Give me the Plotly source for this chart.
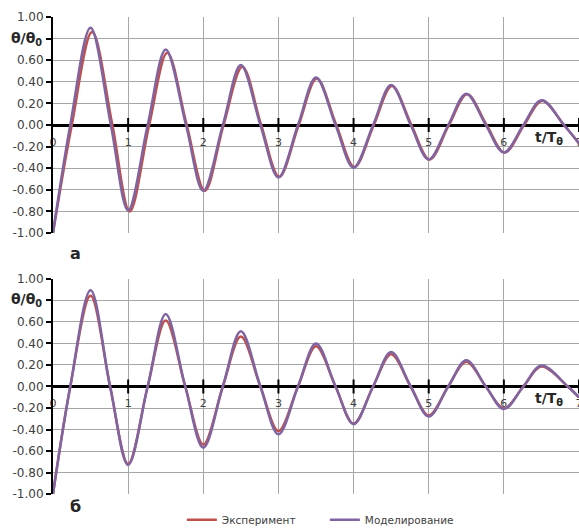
import plotly.graph_objects as go

# ---- data ----
t_sim_a = [0, 0.23, 0.50, 0.77, 1.0, 1.26, 1.50, 1.77, 2.0, 2.26, 2.50, 2.76, 3.0, 3.26, 3.50, 3.76, 4.0, 4.26, 4.50, 4.76, 5.0, 5.26, 5.50, 5.76, 6.0, 6.26, 6.50, 6.80, 7.0]
y_sim_a = [-1.0, 0, 0.90, 0, -0.79, 0, 0.70, 0, -0.61, 0, 0.555, 0, -0.485, 0, 0.44, 0, -0.395, 0, 0.37, 0, -0.32, 0, 0.29, 0, -0.255, 0, 0.23, 0, -0.17]
t_exp_a = [0, 0.25, 0.52, 0.79, 1.02, 1.28, 1.52, 1.78, 2.02, 2.27, 2.52, 2.77, 3.01, 3.27, 3.51, 3.77, 4.01, 4.27, 4.51, 4.77, 5.01, 5.27, 5.51, 5.77, 6.01, 6.27, 6.51, 6.80, 7.0]
y_exp_a = [-1.0, 0, 0.86, 0, -0.80, 0, 0.67, 0, -0.61, 0, 0.54, 0, -0.48, 0, 0.43, 0, -0.39, 0, 0.36, 0, -0.32, 0, 0.285, 0, -0.255, 0, 0.225, 0, -0.17]

t_b = [0, 0.23, 0.50, 0.76, 1.0, 1.26, 1.50, 1.76, 2.0, 2.26, 2.50, 2.76, 3.0, 3.26, 3.50, 3.76, 4.0, 4.26, 4.50, 4.76, 5.0, 5.26, 5.50, 5.76, 6.0, 6.26, 6.50, 6.85, 7.0]
y_sim_b = [-1.0, 0, 0.895, 0, -0.73, 0, 0.675, 0, -0.57, 0, 0.515, 0, -0.445, 0, 0.40, 0, -0.35, 0, 0.32, 0, -0.28, 0, 0.245, 0, -0.21, 0, 0.195, 0, -0.10]
y_exp_b = [-1.0, 0, 0.845, 0, -0.72, 0, 0.615, 0, -0.54, 0, 0.465, 0, -0.415, 0, 0.375, 0, -0.345, 0, 0.30, 0, -0.27, 0, 0.23, 0, -0.205, 0, 0.185, 0, -0.10]

x_ticks = [0, 1, 2, 3, 4, 5, 6, 7]
y_ticks = [-1.0, -0.8, -0.6, -0.4, -0.2, 0.0, 0.2, 0.4, 0.6, 0.8, 1.0]
y_ticktext = ["-1.00", "-0.80", "-0.60", "-0.40", "-0.20", "0.00", "0.20", "0.40", "0.60", "", "1.00"]

RED = "#c0504d"
PURPLE = "#8064a2"
GRID = "#a6a6a6"
FONT = "DejaVu Sans"

fig = go.Figure()

for xa, ya in [("x", "y"), ("x2", "y2")]:
    # tick marks on the t-axis (y = 0 line)
    fig.add_trace(go.Scatter(x=x_ticks[1:], y=[0] * (len(x_ticks) - 1), xaxis=xa, yaxis=ya,
                             mode="markers", showlegend=False, hoverinfo="skip",
                             marker=dict(symbol="line-ns", size=10, line=dict(width=2, color="black"))))
    # tick labels of the t-axis
    fig.add_trace(go.Scatter(x=x_ticks, y=[-0.165] * len(x_ticks), xaxis=xa, yaxis=ya,
                             mode="text", text=[str(v) for v in x_ticks], showlegend=False,
                             hoverinfo="skip", cliponaxis=False,
                             textfont=dict(size=11, color="#404040", family=FONT)))

fig.add_trace(go.Scatter(x=t_exp_a, y=y_exp_a, xaxis="x", yaxis="y", mode="lines", name="Эксперимент",
                         line=dict(color=RED, width=2.5, shape="spline", smoothing=1.0), showlegend=True))
fig.add_trace(go.Scatter(x=t_sim_a, y=y_sim_a, xaxis="x", yaxis="y", mode="lines", name="Моделирование",
                         line=dict(color=PURPLE, width=2.5, shape="spline", smoothing=1.0), showlegend=True))
fig.add_trace(go.Scatter(x=t_b, y=y_exp_b, xaxis="x2", yaxis="y2", mode="lines", name="Эксперимент",
                         line=dict(color=RED, width=2.5, shape="spline", smoothing=1.0), showlegend=False))
fig.add_trace(go.Scatter(x=t_b, y=y_sim_b, xaxis="x2", yaxis="y2", mode="lines", name="Моделирование",
                         line=dict(color=PURPLE, width=2.5, shape="spline", smoothing=1.0), showlegend=False))

xcommon = dict(range=[0, 7], tickvals=x_ticks, showticklabels=False, showgrid=True, gridcolor=GRID,
               gridwidth=1, zeroline=False, showline=False, ticks="")
ycommon = dict(range=[-1, 1], tickvals=y_ticks, ticktext=y_ticktext, showgrid=True, gridcolor=GRID,
               gridwidth=1, zeroline=True, zerolinecolor="black", zerolinewidth=2.5,
               showline=True, linecolor="black", linewidth=2, ticks="outside", ticklen=5,
               tickwidth=1.5, tickcolor="black", tickfont=dict(size=12, color="#404040", family=FONT))

fig.update_layout(
    width=579, height=528,
    margin=dict(l=53, r=0, t=17, b=0, autoexpand=False),
    paper_bgcolor="white", plot_bgcolor="white",
    font=dict(family=FONT),
    xaxis=dict(domain=[0, 1], anchor="y", **xcommon),
    yaxis=dict(domain=[0.5773, 1.0], anchor="x", **ycommon),
    xaxis2=dict(domain=[0, 1], anchor="y2", **xcommon),
    yaxis2=dict(domain=[0.0665, 0.4873], anchor="x2", **ycommon),
    showlegend=True,
    legend=dict(orientation="h", x=0.245, y=0.016, xanchor="left", yanchor="middle",
                font=dict(size=10.5, color="#404040", family=FONT), bgcolor="rgba(0,0,0,0)",
                entrywidth=98, entrywidthmode="pixels"),
)

ann = []
for yr in ["y", "y2"]:
    ann.append(dict(x=-0.018, xref="paper", y=0.8, yref=yr, xanchor="right",
                    text="<b>θ/θ<sub>0</sub></b>",
                    showarrow=False, font=dict(size=14, color="#262626", family=FONT)))
    xr = "x" if yr == "y" else "x2"
    ann.append(dict(x=6.6, xref=xr, y=-0.12, yref=yr, text="<b>t/T<sub>θ</sub></b>",
                    showarrow=False, font=dict(size=14, color="#262626", family=FONT)))
ann.append(dict(x=0.0285, xref="paper", y=0.538, yref="paper", text="<b>а</b>", showarrow=False,
                font=dict(size=16, color="#262626", family=FONT)))
ann.append(dict(x=0.0285, xref="paper", y=0.0196, yref="paper", text="<b>б</b>", showarrow=False,
                font=dict(size=16, color="#262626", family=FONT)))
fig.update_layout(annotations=ann)

fig.write_html("out.html")
